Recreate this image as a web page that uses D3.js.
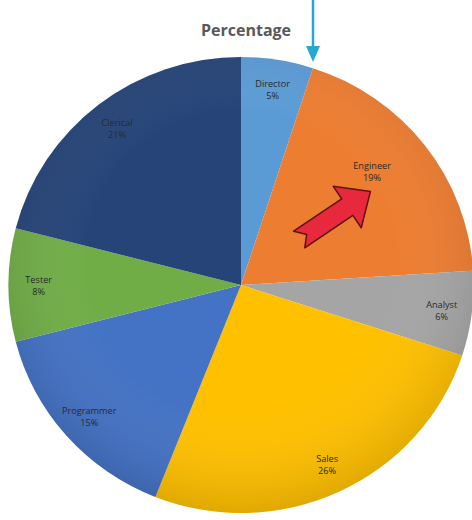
<!DOCTYPE html>
<html>
<head>
<meta charset="utf-8">
<script src="https://cdn.jsdelivr.net/npm/d3@7"></script>
<style>
  body { margin: 0; background: #fff; }
  svg { display: block; }
</style>
</head>
<body>
<svg class="pie" width="472" height="520"></svg>
<script>
// data
var roles = ["Director", "Engineer", "Analyst", "Sales", "Programmer", "Tester", "Clerical"];
var shares = [5, 19, 6, 26, 15, 8, 21];
var roleColors = ["#5b9bd5", "#ed7d31", "#a5a5a5", "#ffc000", "#4472c4", "#70ad47", "#264478"];

var color = d3.scaleOrdinal().domain(roles).range(roleColors);

var svg = d3.select("svg.pie");
var cx = 241, cy = 285, r = 228;

// soft shading like the original
var defs = svg.append("defs");
var grad = defs.append("radialGradient").attr("id", "shade")
    .attr("cx", "50%").attr("cy", "45%").attr("r", "55%");
grad.append("stop").attr("offset", "60%").attr("stop-color", "#fff").attr("stop-opacity", 0);
grad.append("stop").attr("offset", "100%").attr("stop-color", "#000").attr("stop-opacity", 0.12);

var pie = d3.pie().sort(null).value(function(d, i) { return shares[i]; });
var arcs = pie(roles);

var arc = d3.arc().innerRadius(0).outerRadius(r);
var labelArc = d3.arc().innerRadius(r * 0.87).outerRadius(r * 0.87);

var g = svg.append("g")
    .attr("transform", "translate(" + cx + "," + cy + ") scale(1.02,1)");

g.selectAll("path.slice")
    .data(arcs)
    .enter()
    .append("path")
    .attr("class", "slice")
    .attr("d", arc)
    .attr("fill", function(d) { return color(d.data); });

g.append("circle").attr("r", r).attr("fill", "url(#shade)");

function labelPos(d) {
    var c = labelArc.centroid(d);
    if (d.data === "Engineer") c = [c[0] * 0.82, c[1] * 0.94];
    return c;
}

// name and percent as two separate lines
g.selectAll("text.name")
    .data(arcs)
    .enter()
    .append("text")
    .attr("class", "name")
    .attr("x", function(d) { return labelPos(d)[0]; })
    .attr("y", function(d) { return labelPos(d)[1] - 2; })
    .attr("text-anchor", "middle")
    .style("font-family", "Open Sans, sans-serif")
    .style("font-size", "9px")
    .attr("fill", "#2a2a2a")
    .text(function(d) { return d.data; });

g.selectAll("text.pct")
    .data(arcs)
    .enter()
    .append("text")
    .attr("class", "pct")
    .attr("x", function(d) { return labelPos(d)[0]; })
    .attr("y", function(d) { return labelPos(d)[1] + 10; })
    .attr("text-anchor", "middle")
    .style("font-family", "Open Sans, sans-serif")
    .style("font-size", "9px")
    .attr("fill", "#2a2a2a")
    .text(function(d, i) { return shares[i] + "%"; });

// title
svg.append("text")
    .attr("x", 246).attr("y", 36)
    .attr("text-anchor", "middle")
    .style("font-family", "Open Sans, sans-serif")
    .style("font-weight", "bold")
    .style("font-size", "16px")
    .attr("fill", "#595959")
    .text("Percentage");

// blue pointer arrow
svg.append("line")
    .attr("x1", 313).attr("y1", 0).attr("x2", 313).attr("y2", 50)
    .attr("stroke", "#25a9d0").attr("stroke-width", 2.5);
svg.append("path")
    .attr("d", "M306,46 L320,46 L313,62 Z")
    .attr("fill", "#25a9d0");

// red block arrow in the engineer slice
svg.append("path")
    .attr("d", "M-42,-10 L16,-10 L16,-25 L44,0 L16,25 L16,10 L-42,10 L-33,0 Z")
    .attr("transform", "translate(334,216) rotate(-34)")
    .attr("fill", "#e8283c")
    .attr("stroke", "#5a1414")
    .attr("stroke-width", 1.5)
    .attr("stroke-linejoin", "round");
</script>
</body>
</html>
